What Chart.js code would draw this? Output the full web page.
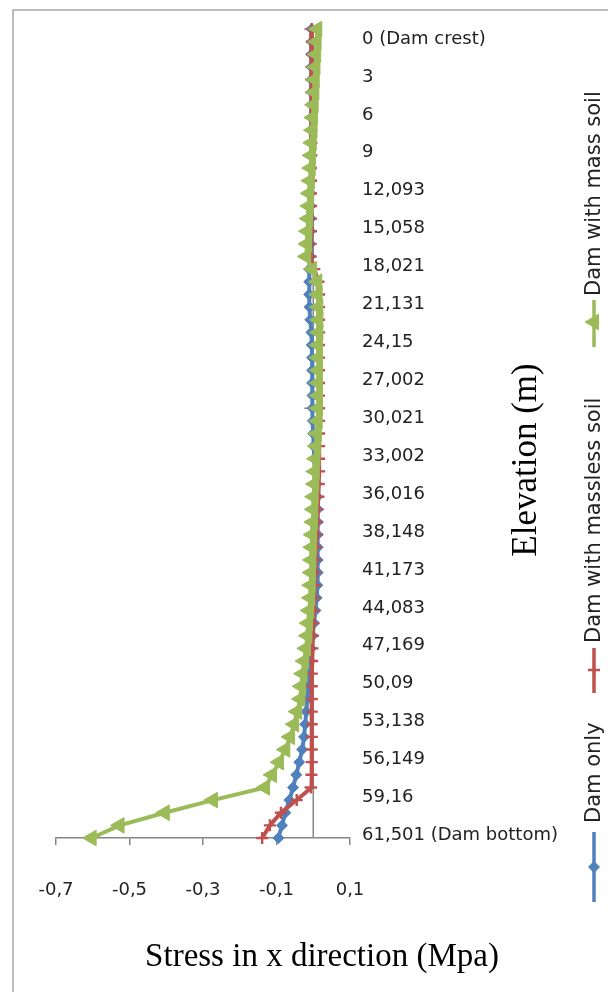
<!DOCTYPE html>
<html>
<head>
<meta charset="utf-8">
<script src="https://cdn.jsdelivr.net/npm/chart.js@4/dist/chart.umd.min.js"></script>
<style>
  html, body { margin: 0; padding: 0; background: #ffffff; }
  #wrap { width: 608px; height: 992px; }
</style>
</head>
<body>
<div id="wrap"><canvas id="c" width="608" height="992"></canvas></div>
<script>
// ---------- DATA ----------
// Elevation labels shown on the vertical (category) axis, one every 3rd node
const elevationLabels = ['0 (Dam crest)', '3', '6', '9', '12,093', '15,058', '18,021', '21,131', '24,15',
  '27,002', '30,021', '33,002', '36,016', '38,148', '41,173', '44,083', '47,169', '50,09', '53,138',
  '56,149', '59,16', '61,501 (Dam bottom)'];
const nodeCount = 65;
const labelStep = 3;

// X tick values (stress, MPa)
const xTicks = [-0.7, -0.5, -0.3, -0.1, 0.1];

// Series (stress in x direction, MPa), from crest (top) to bottom
const damOnly = [
  -0.004, -0.004, -0.005, -0.005, -0.005, -0.005, -0.005, -0.006, -0.006, -0.006,
  -0.006, -0.006, -0.007, -0.007, -0.007, -0.007, -0.008, -0.008, -0.008, -0.011,
  -0.011, -0.011, -0.010, -0.008, -0.005, -0.004, -0.003, -0.003, -0.003, -0.002,
  -0.002, -0.001, 0.000, 0.001, 0.003, 0.006, 0.009, 0.011, 0.012, 0.012,
  0.012, 0.012, 0.012, 0.012, 0.011, 0.009, 0.006, 0.002, -0.002, -0.006,
  -0.009, -0.011, -0.013, -0.016, -0.019, -0.022, -0.025, -0.030, -0.038, -0.046,
  -0.055, -0.065, -0.076, -0.085, -0.095];

const damMasslessSoil = [
  -0.004, -0.004, -0.004, -0.005, -0.005, -0.005, -0.005, -0.005, -0.005, -0.005,
  -0.005, -0.006, -0.006, -0.006, -0.006, -0.006, -0.006, -0.007, -0.007, 0.003,
  0.014, 0.016, 0.016, 0.016, 0.016, 0.016, 0.016, 0.016, 0.016, 0.016,
  0.016, 0.016, 0.016, 0.016, 0.016, 0.016, 0.015, 0.014, 0.012, 0.011,
  0.010, 0.008, 0.007, 0.006, 0.004, 0.003, 0.002, 0.000, -0.001, -0.002,
  -0.003, -0.004, -0.004, -0.004, -0.004, -0.004, -0.004, -0.004, -0.004, -0.005,
  -0.006, -0.045, -0.088, -0.118, -0.139];

const damMassSoil = [
  0.011, 0.009, 0.008, 0.006, 0.004, 0.003, 0.001, -0.001, -0.002, -0.004,
  -0.006, -0.007, -0.009, -0.011, -0.012, -0.014, -0.016, -0.017, -0.019, -0.003,
  0.011, 0.012, 0.014, 0.014, 0.014, 0.013, 0.013, 0.013, 0.013, 0.013,
  0.013, 0.012, 0.010, 0.008, 0.006, 0.004, 0.003, 0.001, 0.000, -0.001,
  -0.003, -0.004, -0.005, -0.006, -0.007, -0.008, -0.011, -0.014, -0.016, -0.020,
  -0.025, -0.029, -0.033, -0.035, -0.044, -0.052, -0.063, -0.076, -0.093, -0.112,
  -0.131, -0.273, -0.404, -0.527, -0.603];

const seriesNames = ['Dam only', 'Dam with massless soil', 'Dam with mass soil'];
const seriesColors = ['#4F81BD', '#C0504D', '#9BBB59'];

// ---------- BUILD ----------
const categories = Array.from({ length: nodeCount }, (_, i) =>
  (i % labelStep === 0 && i / labelStep < elevationLabels.length) ? elevationLabels[i / labelStep] : '');

const AXIS = '#868686';
const TXT = '#222222';
const SANS = '"DejaVu Sans", sans-serif';
const SERIF = '"Liberation Serif", "Times New Roman", serif';

const styles = [
  { pointStyle: 'rectRot', radius: 5.5, rotation: 0, borderWidth: 1 },
  { pointStyle: 'cross', radius: 6, rotation: 0, borderWidth: 2.4 },
  { pointStyle: 'triangle', radius: 9, rotation: -90, borderWidth: 1 }
];

function makeDataset(idx, data, order) {
  const s = styles[idx];
  return {
    label: seriesNames[idx],
    data: data,
    borderColor: seriesColors[idx],
    backgroundColor: seriesColors[idx],
    borderWidth: 4,
    pointStyle: s.pointStyle,
    pointRadius: s.radius,
    pointRotation: s.rotation,
    pointBorderWidth: s.borderWidth,
    pointBackgroundColor: seriesColors[idx],
    pointBorderColor: seriesColors[idx],
    tension: 0,
    clip: false,
    order: order
  };
}

function drawMarker(ctx, idx, x, y) {
  const s = styles[idx];
  ctx.fillStyle = seriesColors[idx];
  ctx.strokeStyle = seriesColors[idx];
  ctx.lineWidth = s.borderWidth;
  Chart.helpers.drawPoint(ctx, { pointStyle: s.pointStyle, radius: s.radius, rotation: s.rotation, borderWidth: s.borderWidth }, x, y);
}

const decor = {
  id: 'decor',
  beforeDraw(chart) {
    const ctx = chart.ctx;
    ctx.save();
    ctx.fillStyle = '#ffffff';
    ctx.fillRect(0, 0, chart.width, chart.height);
    ctx.strokeStyle = '#a6a6a6';
    ctx.lineWidth = 1.5;
    ctx.beginPath();
    ctx.moveTo(13, chart.height);
    ctx.lineTo(13, 10);
    ctx.lineTo(chart.width, 10);
    ctx.stroke();
    ctx.restore();
  },
  beforeDatasetsDraw(chart) {
    const { ctx, chartArea, scales } = chart;
    const x0 = scales.x.getPixelForValue(0);
    ctx.save();
    ctx.strokeStyle = AXIS;
    ctx.lineWidth = 1.5;
    ctx.beginPath();
    ctx.moveTo(x0, chartArea.top);
    ctx.lineTo(x0, chartArea.bottom);
    for (let i = 0; i < nodeCount - 1; i += 10) {
      const py = scales.y.getPixelForValue(i);
      ctx.moveTo(x0 - 9, py);
      ctx.lineTo(x0, py);
    }
    ctx.stroke();
    ctx.restore();
  },
  afterDraw(chart) {
    const ctx = chart.ctx;
    ctx.save();
    // x axis title
    ctx.fillStyle = '#000000';
    ctx.font = '33px ' + SERIF;
    ctx.textAlign = 'center';
    ctx.textBaseline = 'middle';
    ctx.fillText('Stress in x direction (Mpa)', 322, 957);
    // vertical axis title
    ctx.save();
    ctx.translate(527, 460);
    ctx.rotate(-Math.PI / 2);
    ctx.font = '35px ' + SERIF;
    ctx.fillText('Elevation (m)', 0, 0);
    ctx.restore();
    // legend (rotated, read bottom to top)
    const cx = 594;
    const items = [
      { idx: 0, lineTop: 832, lineBottom: 902, marker: 867, textStart: 823 },
      { idx: 1, lineTop: 648, lineBottom: 693, marker: 670, textStart: 643 },
      { idx: 2, lineTop: 300, lineBottom: 347, marker: 322, textStart: 296 }
    ];
    items.forEach(it => {
      ctx.save();
      ctx.strokeStyle = seriesColors[it.idx];
      ctx.lineWidth = 3.5;
      ctx.beginPath();
      ctx.moveTo(cx, it.lineTop);
      ctx.lineTo(cx, it.lineBottom);
      ctx.stroke();
      drawMarker(ctx, it.idx, cx, it.marker);
      ctx.restore();
      ctx.save();
      ctx.translate(cx, it.textStart);
      ctx.rotate(-Math.PI / 2);
      ctx.fillStyle = TXT;
      ctx.font = '21px ' + SANS;
      ctx.textAlign = 'left';
      ctx.textBaseline = 'middle';
      ctx.fillText(seriesNames[it.idx], 0, 1);
      ctx.restore();
    });
    ctx.restore();
  }
};

Chart.defaults.font.family = SANS;

new Chart(document.getElementById('c'), {
  type: 'line',
  data: {
    labels: categories,
    datasets: [
      makeDataset(0, damOnly, 3),
      makeDataset(1, damMasslessSoil, 2),
      makeDataset(2, damMassSoil, 1)
    ]
  },
  options: {
    indexAxis: 'y',
    responsive: false,
    animation: false,
    devicePixelRatio: 1,
    layout: { padding: { left: 56, top: 29, right: 0, bottom: 0 } },
    plugins: { legend: { display: false }, tooltip: { enabled: false }, title: { display: false } },
    scales: {
      x: {
        type: 'linear',
        min: xTicks[0],
        max: xTicks[xTicks.length - 1],
        afterBuildTicks(scale) { scale.ticks = xTicks.map(v => ({ value: v })); },
        afterFit(scale) { scale.height = 154; },
        grid: { drawOnChartArea: false, drawTicks: true, tickLength: 7, color: AXIS, tickColor: AXIS, lineWidth: 1.5 },
        border: { display: true, color: AXIS, width: 1.5 },
        ticks: {
          padding: 35,
          color: TXT,
          font: { size: 18, family: SANS },
          maxRotation: 0,
          callback: (v) => Number(v).toFixed(1).replace('.', ',')
        }
      },
      y: {
        type: 'category',
        position: 'right',
        offset: false,
        afterFit(scale) { scale.width = 258; },
        grid: { display: false, drawTicks: false },
        border: { display: false },
        ticks: {
          autoSkip: false,
          padding: 12,
          labelOffset: 10,
          color: TXT,
          font: { size: 18, family: SANS }
        }
      }
    }
  },
  plugins: [decor]
});
</script>
</body>
</html>
